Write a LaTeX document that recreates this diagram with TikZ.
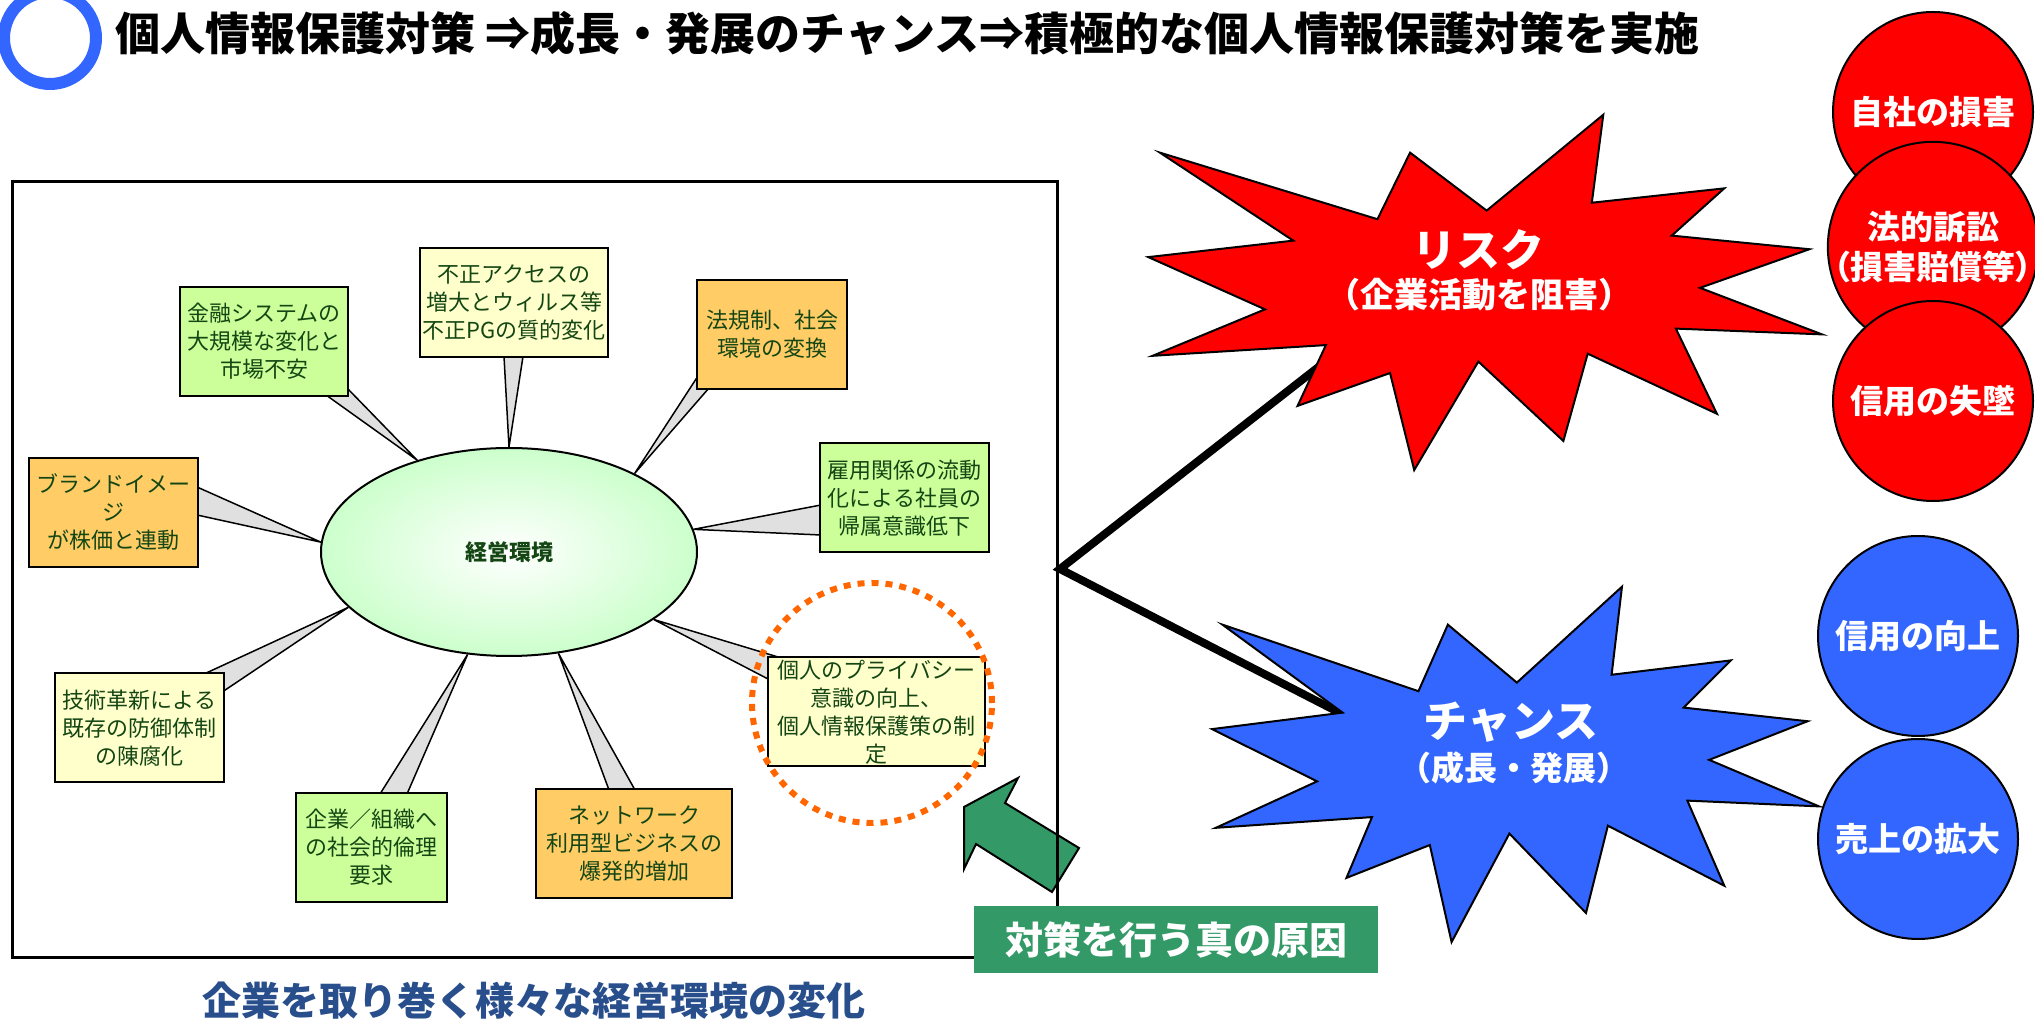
\documentclass[tikz,border=0pt]{standalone}
\usepackage{fontspec}
\setmainfont{Noto Sans CJK JP}
\newfontfamily\proportional[RawFeature=+palt]{Noto Sans CJK JP}
\usetikzlibrary{shapes.geometric,calc,backgrounds}

\definecolor{ringblue}{RGB}{51,102,255}
\definecolor{riskred}{RGB}{255,0,0}
\definecolor{causegreen}{RGB}{51,153,102}
\definecolor{dotorange}{RGB}{255,102,0}
\definecolor{boxgreen}{RGB}{204,255,153}
\definecolor{boxyellow}{RGB}{255,255,204}
\definecolor{boxorange}{RGB}{255,204,102}
\definecolor{envgreen}{RGB}{204,255,204}
\definecolor{envtext}{RGB}{20,70,20}
\definecolor{captionblue}{RGB}{40,78,140}
\definecolor{spokegray}{RGB}{224,224,224}

% explosion outline, #1 #2 = top left, #3 #4 = scale, #5 = fill
\newcommand{\explosion}[5]{\filldraw[fill=#5, line width=1pt, shift={(#1,#2)}, xscale=#3, yscale=#4]
  (109.01,59.05) -- (84.58,23.99) -- (74.17,64.25) -- (4.76,23.99) -- (47.32,77.22)
  -- (1.06,87.18) -- (38.28,118.80) -- (2.43,146.89) -- (57.72,140.41) -- (48.68,177.19)
  -- (78.19,157.30) -- (85.90,216) -- (106.37,150.38) -- (133.49,198.40) -- (141.25,145.61)
  -- (182.48,181.95) -- (169.38,130.44) -- (216,133.93) -- (177.10,105.79) -- (211.98,82.42)
  -- (168.06,74.17) -- (184.82,45.60) -- (142.57,54.29) -- (146.23,1.06) -- cycle;}

\begin{document}
\begin{tikzpicture}[x=0.5pt, y=-0.5pt,
    every node/.style={inner sep=0pt, align=center},
    factor/.style={draw, line width=1pt, minimum height=54.5pt, text=envtext,
        font=\fontsize{11}{14}\selectfont},
    spoke/.style={draw, fill=spokegray, line width=0.75pt},
    result/.style={circle, draw, line width=1pt, minimum size=100pt, text=white,
        font=\bfseries\fontsize{16.5}{20}\selectfont},
    burst/.style={text=white, font=\bfseries\fontsize{22}{26}\selectfont},
    burstsub/.style={text=white, font=\bfseries\fontsize{17}{20}\selectfont}]

\useasboundingbox (0,0) rectangle (2035,1020);

\node[circle, draw=ringblue, line width=6pt, minimum size=46pt] (ring) at (50,38) {};
\node[anchor=west, font=\bfseries\fontsize{22.5}{26}\selectfont] (title) at (115,33)
    {個人情報保護対策 ⇒成長・発展のチャンス⇒積極的な個人情報保護対策を実施};

\node[ellipse, draw, line width=1pt, minimum width=188pt, minimum height=104pt,
    inner color=white, outer color=envgreen, text=envtext,
    font=\bfseries\fontsize{11}{13}\selectfont] (env) at (509,552) {経営環境};

\node[factor, fill=boxgreen, minimum width=84pt] (finance) at (264,341.5) {金融システムの\\大規模な変化と\\市場不安};
\node[factor, fill=boxyellow, minimum width=94pt] (fraud) at (514,303) {不正アクセスの\\増大とウィルス等\\不正PGの質的変化};
\node[factor, fill=boxorange, minimum width=75pt] (law) at (772,334.5) {法規制、社会\\環境の変換};
\node[factor, fill=boxgreen, minimum width=84.5pt] (employ) at (904.5,498) {雇用関係の流動\\化による社員の\\帰属意識低下};
\node[factor, fill=boxorange, minimum width=84.5pt] (brand) at (113.5,512.5) {ブランドイメー\\ジ\\が株価と連動};
\node[factor, fill=boxyellow, minimum width=84.5pt] (tech) at (139.5,728) {技術革新による\\既存の防御体制\\の陳腐化};
\node[factor, fill=boxgreen, minimum width=75.5pt] (ethics) at (371.5,847.5) {企業／組織へ\\の社会的倫理\\要求};
\node[factor, fill=boxorange, minimum width=98pt] (network) at (634,843.5) {ネットワーク\\利用型ビジネスの\\爆発的増加};
\node[factor, fill=boxyellow, minimum width=108.5pt] (privacy) at (876.5,712) {個人のプライバシー\\意識の向上、\\個人情報保護策の制\\定};

\begin{scope}[on background layer]
\filldraw[spoke] (env.135) -- ($(finance.south east)+(-23,-2)$) -- ($(finance.south east)+(-2,-9)$) -- cycle;
\filldraw[spoke] (env.90) -- ($(fraud.south)+(-10,-2)$) -- ($(fraud.south)+(9,-2)$) -- cycle;
\filldraw[spoke] (env.32) -- ($(law.south west)+(2,-14)$) -- ($(law.south west)+(13,-2)$) -- cycle;
\filldraw[spoke] (env.7) -- ($(employ.west)+(2,7)$) -- ($(employ.west)+(2,37)$) -- cycle;
\filldraw[spoke] (env.177) -- ($(brand.east)+(-2,-25.5)$) -- ($(brand.east)+(-2,2.5)$) -- cycle;
\filldraw[spoke] (env.199) -- ($(tech.north east)+(-22,2)$) -- ($(tech.north east)+(-2,19)$) -- cycle;
\filldraw[spoke] (env.248) -- ($(ethics.north)+(8.5,2)$) -- ($(ethics.north)+(35.5,2)$) -- cycle;
\filldraw[spoke] (env.296) -- ($(network.north)+(-25,2)$) -- ($(network.north)+(1,2)$) -- cycle;
\filldraw[spoke] (env.335) -- ($(privacy.north west)+(16,2)$) -- ($(privacy.north west)+(2,23)$) -- cycle;
\end{scope}

\node[circle, draw=dotorange, line width=3pt, dash pattern=on 3.5pt off 3.5pt, minimum size=120pt] (focus) at (872,703) {};

\filldraw[fill=causegreen, line width=1pt] (964,807) -- (1018,778) -- (1005,803) -- (1079,848)
    -- (1052,892) -- (976,844) -- (964,869) -- cycle;

\node[draw, line width=1.5pt, minimum width=522.5pt, minimum height=387.5pt] (frame) at (534.5,569.5) {};
\node[fill=causegreen, minimum width=202pt, minimum height=33.5pt, text=white,
    font=\bfseries\fontsize{19}{22}\selectfont] (cause) at (1176,939.5) {対策を行う真の原因};
\node[text=captionblue, font=\bfseries\fontsize{19.5}{22}\selectfont] (caption) at (534,1001)
    {企業を取り巻く様々な経営環境の変化};

\coordinate (fork) at (1060,569);
\coordinate (riskfoot) at (1330,358);
\coordinate (chancefoot) at (1340,713);
\draw[line width=4pt] (riskfoot) -- (fork) -- (chancefoot);

\explosion{1145}{113}{3.134}{1.653}{riskred}
\explosion{1209}{585}{2.824}{1.653}{ringblue}
\node[burst] (risk) at (1478,250) {リスク};
\node[burstsub] (riskcause) at (1479,295) {（企業活動を阻害）};
\node[burst] (chance) at (1511,722) {チャンス};
\node[burstsub, font=\bfseries\fontsize{16.5}{20}\selectfont] (chancecause) at (1514,768) {（成長・発展）};

\node[result, fill=riskred] (loss) at (1933,112) {自社の損害};
\node[result, fill=riskred] (suit) at (1933,247) {法的訴訟\\{\proportional （損害賠償等）}};
\node[result, fill=riskred] (trust) at (1933,401) {信用の失墜};
\node[result, fill=ringblue] (credit) at (1918,636) {信用の向上};
\node[result, fill=ringblue] (sales) at (1918,839) {売上の拡大};

\end{tikzpicture}
\end{document}
